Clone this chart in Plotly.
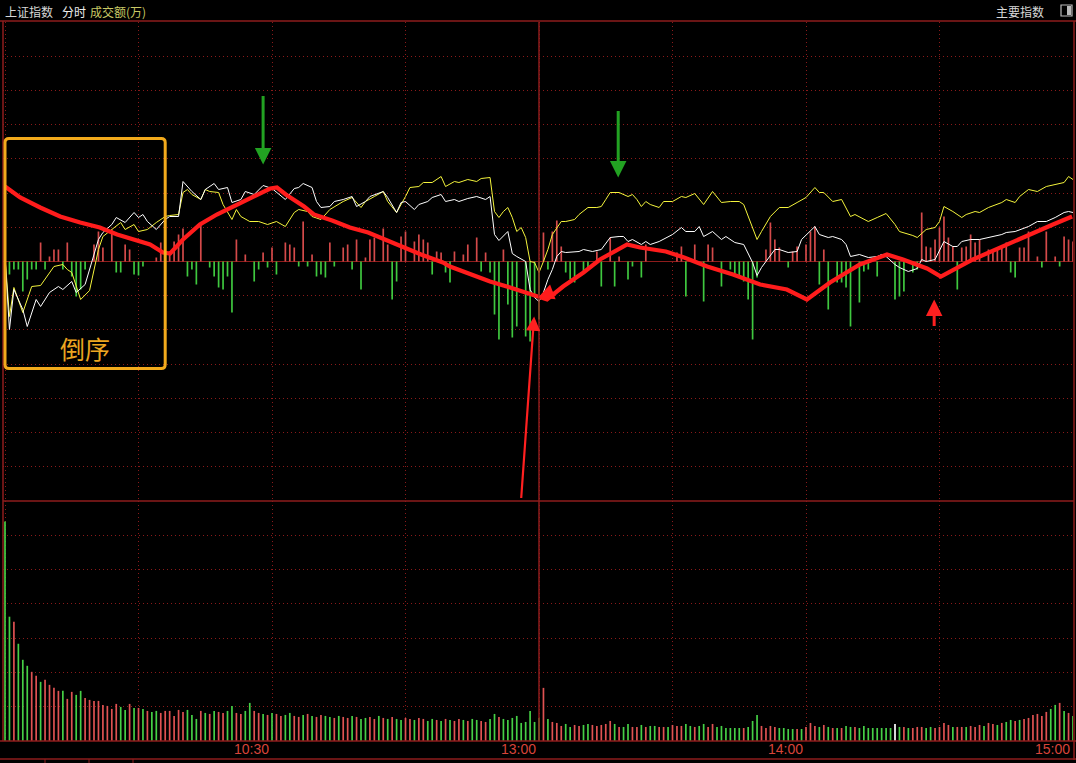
import plotly.graph_objects as go

# ---------------- data (minutes since 9:30, lunch break removed) ----------------
tick_minutes = [60, 120, 180, 240]
tick_labels = ["10:30", "13:00", "14:00", "15:00"]

# 上证指数 (white) : change vs. previous close, in basis points
white_t = [0, 1, 2, 4, 5, 7, 8, 10, 12, 13,
           15, 16, 18, 21, 22, 24, 25, 27, 29, 30,
           31, 32, 34, 36, 37, 39, 40, 42, 44, 45,
           47, 48, 50, 51, 53, 54, 56, 58, 60, 62,
           63, 65, 66, 67, 69, 70, 71, 73, 74, 76,
           78, 79, 81, 82, 85, 86, 88, 89, 90, 92,
           93, 95, 96, 98, 99, 101, 102, 104, 106, 108,
           109, 110, 111, 113, 114, 115, 117, 118, 119, 120,
           121, 122, 123, 124, 125, 126, 129, 130, 132, 134,
           136, 138, 139, 140, 141, 143, 144, 145, 147, 150,
           152, 153, 155, 156, 157, 159, 161, 162, 164, 166,
           168, 169, 170, 171, 173, 174, 176, 178, 179, 182,
           183, 185, 186, 188, 189, 190, 192, 194, 196, 197,
           198, 200, 201, 203, 205, 206, 207, 209, 211, 213,
           214, 215, 217, 219, 222, 224, 225, 227, 230, 232,
           234, 236, 238, 239, 240]
white_v = [5, -68, -28, -48, -65, -38, -45, -31, -25, -28,
           -20, -31, -23, 22, 29, 37, 44, 39, 49, 44,
           47, 40, 32, 42, 45, 45, 80, 70, 62, 72,
           78, 72, 74, 59, 62, 70, 67, 76, 73, 65,
           62, 73, 74, 78, 74, 60, 54, 55, 60, 62,
           65, 55, 60, 65, 70, 64, 49, 59, 60, 52,
           57, 60, 64, 67, 60, 62, 60, 63, 65, 62,
           65, 27, 21, 30, 8, 5, 0, -28, -36, -40,
           -31, -18, -8, 5, 10, 9, 10, 12, 10, 12,
           24, 25, 25, 20, 22, 17, 20, 17, 20, 27,
           34, 30, 30, 35, 25, 30, 22, 25, 19, 17,
           -1, -14, -6, 0, 12, 12, 9, 10, 22, 35,
           27, 24, 25, 22, 17, 5, 7, 4, 5, 7,
           5, -3, -6, -10, -7, 2, 0, 2, 20, 15,
           15, 20, 22, 22, 25, 27, 29, 30, 35, 40,
           40, 44, 49, 50, 49]

# 领先指标 (yellow)
yellow_t = [0, 1, 2, 4, 6, 8, 11, 13, 14, 15,
            17, 18, 19, 21, 22, 24, 26, 27, 29, 30,
            32, 34, 36, 37, 39, 40, 41, 42, 44, 45,
            46, 48, 49, 51, 52, 53, 55, 57, 59, 61,
            63, 65, 66, 68, 69, 71, 73, 76, 78, 80,
            81, 83, 85, 86, 88, 90, 91, 93, 94, 96,
            98, 99, 101, 102, 104, 106, 107, 109, 110, 111,
            112, 113, 114, 115, 116, 117, 118, 119, 120, 121,
            122, 123, 125, 126, 128, 129, 131, 133, 134, 135,
            136, 138, 140, 141, 142, 143, 144, 145, 147, 148,
            150, 152, 153, 155, 157, 159, 161, 163, 165, 166,
            167, 169, 170, 172, 174, 176, 178, 180, 182, 183,
            184, 186, 188, 190, 191, 194, 196, 198, 200, 201,
            204, 205, 207, 209, 210, 211, 213, 215, 216, 218,
            219, 221, 224, 225, 227, 228, 230, 232, 234, 236,
            238, 239, 240]
yellow_v = [5, -55, -26, -51, -25, -24, -5, -3, -8, -11,
            -38, -34, -29, 12, 25, 32, 39, 32, 37, 30,
            32, 39, 45, 46, 47, 69, 72, 67, 62, 72,
            70, 69, 57, 42, 52, 45, 40, 40, 37, 40,
            35, 49, 52, 50, 45, 42, 52, 60, 64, 54,
            60, 65, 70, 60, 49, 65, 74, 75, 79, 79,
            85, 75, 80, 79, 82, 80, 83, 84, 50, 44,
            50, 54, 44, 30, 34, 24, 0, -1, -11, 0,
            12, 27, 40, 40, 42, 47, 54, 54, 55, 62,
            69, 69, 65, 67, 62, 55, 60, 57, 54, 60,
            60, 65, 64, 68, 57, 70, 59, 60, 60, 57,
            45, 22, 30, 45, 54, 54, 59, 64, 74, 69,
            69, 60, 62, 45, 47, 40, 44, 48, 37, 30,
            26, 24, 32, 34, 40, 55, 50, 44, 47, 50,
            49, 54, 59, 62, 59, 65, 72, 70, 75, 77,
            79, 85, 82]

# hand-drawn red trend line
trend_t = [0, 3.4, 7.9, 12.4, 16.9, 21.3, 25.2, 28.8, 32.6, 35.5,
           37.1, 40, 43.8, 47.6, 51.2, 55.1, 58, 59.6, 61.1, 63.1,
           67.2, 69.4, 73.5, 77.5, 81.6, 85.6, 89.7, 93.5, 98.4, 100,
           104.5, 109, 113.5, 118, 120.2, 121.8, 125.4, 130, 133.7, 137.5,
           139.8, 142.7, 148.5, 152.6, 157.8, 163.6, 169.7, 175.7, 180.2, 185.4,
           192.1, 198.2, 201.8, 207.2, 210.3, 217.5, 226.5, 235.5, 239.8]
trend_v = [75, 64, 54, 45, 39, 34, 27, 22, 17, 9,
           8, 22, 37, 47, 55, 64, 70, 73, 74, 67,
           55, 47, 41, 34, 29, 22, 14, 7, -1, -5,
           -13, -20, -26, -33, -36, -38, -25, -11, 2, 12,
           17, 14, 10, 4, -5, -13, -23, -28, -38, -21,
           -3, 7, 2, -7, -15, 2, 20, 37, 45]

# red (buy) and green (sell) bars around the zero line
buy_t = [8, 10, 11, 12, 14, 20, 21, 22, 24, 27,
         28, 34, 35, 37, 38, 39, 40, 44, 52, 54,
         58, 60, 63, 64, 65, 67, 69, 73, 76, 77,
         79, 81, 82, 83, 85, 86, 89, 90, 92, 93,
         94, 95, 97, 98, 101, 103, 104, 106, 108, 112,
         121, 123, 124, 125, 133, 136, 138, 144, 151, 152,
         155, 158, 159, 171, 172, 173, 174, 177, 178, 180,
         181, 182, 184, 206, 207, 208, 209, 210, 211, 212,
         213, 215, 216, 217, 218, 219, 221, 222, 223, 224,
         225, 228, 229, 230, 232, 234, 236, 238, 239, 240]
buy_v = [19, 5, 12, 12, 19, 17, 30, 14, 32, 17,
         12, 4, 19, 10, 20, 27, 33, 38, 22, 7,
         9, 14, 19, 17, 14, 40, 7, 19, 14, 17,
         22, 4, 22, 24, 33, 17, 25, 30, 20, 27,
         22, 19, 10, 9, 10, 7, 17, 24, 9, 12,
         29, 30, 41, 15, 10, 24, 5, 17, 9, 15,
         17, 17, 14, 12, 39, 22, 14, 10, 15, 17,
         30, 35, 12, 49, 15, 14, 22, 34, 45, 24,
         15, 14, 15, 27, 19, 22, 12, 10, 14, 15,
         19, 14, 14, 30, 5, 30, 5, 25, 22, 20]
sell_t = [0, 1, 2, 3, 4, 5, 6, 7, 9, 13,
          15, 16, 17, 18, 25, 26, 29, 30, 31, 36,
          41, 42, 43, 46, 47, 48, 49, 50, 51, 56,
          57, 59, 61, 66, 68, 70, 71, 72, 74, 78,
          80, 87, 88, 96, 99, 100, 107, 109, 110, 111,
          113, 114, 115, 117, 118, 119, 120, 122, 126, 127,
          128, 130, 131, 134, 137, 140, 141, 143, 153, 157,
          161, 163, 164, 165, 166, 167, 168, 169, 176, 183,
          185, 187, 188, 189, 190, 192, 193, 194, 196, 200,
          201, 202, 204, 205, 214, 226, 227, 233, 237]
sell_v = [-15, -13, -8, -8, -30, -18, -8, -8, -8, -8,
          -15, -35, -28, -8, -11, -11, -13, -14, -5, -11,
          -15, -8, -23, -6, -15, -26, -28, -15, -51, -20,
          -8, -6, -13, -5, -5, -15, -13, -16, -5, -8,
          -28, -38, -20, -13, -11, -21, -10, -11, -53, -78,
          -43, -76, -65, -75, -80, -35, -58, -8, -11, -18,
          -21, -11, -6, -25, -25, -18, -5, -16, -35, -40,
          -25, -8, -13, -15, -20, -38, -78, -16, -6, -23,
          -48, -21, -21, -26, -65, -41, -10, -8, -15, -38,
          -35, -30, -11, -8, -28, -11, -16, -6, -5]

# 成交额 per minute (m0 .. m240) and bar direction (R up / G down / W flat)
volume = [219, 124, 119, 97, 81, 75, 69, 65, 59, 61,
          56, 53, 50, 50, 42, 49, 46, 50, 43, 41,
          40, 40, 36, 35, 32, 37, 34, 31, 37, 33,
          33, 32, 30, 29, 30, 28, 30, 30, 25, 31,
          29, 31, 26, 22, 30, 28, 27, 30, 29, 28,
          30, 35, 28, 27, 30, 38, 30, 28, 27, 26,
          28, 27, 25, 26, 28, 25, 24, 26, 27, 25,
          24, 26, 25, 24, 23, 25, 24, 23, 25, 24,
          22, 23, 24, 22, 25, 23, 22, 24, 22, 21,
          23, 22, 21, 23, 22, 20, 22, 21, 20, 22,
          21, 20, 22, 21, 20, 22, 21, 20, 19, 22,
          27, 24, 22, 21, 23, 25, 18, 19, 30, 19,
          23, 53, 22, 19, 18, 15, 17, 14, 16, 15,
          16, 17, 16, 15, 16, 17, 20, 17, 14, 14,
          17, 14, 14, 16, 14, 15, 15, 14, 14, 14,
          16, 15, 15, 17, 15, 14, 15, 17, 14, 17,
          14, 15, 13, 13, 13, 13, 13, 14, 20, 26,
          15, 13, 15, 14, 13, 13, 12, 12, 12, 12,
          14, 18, 15, 14, 16, 14, 13, 13, 13, 15,
          14, 14, 13, 15, 13, 13, 13, 13, 13, 13,
          17, 14, 14, 13, 13, 14, 14, 13, 14, 13,
          14, 18, 16, 14, 14, 14, 14, 15, 14, 16,
          15, 18, 17, 16, 18, 19, 21, 20, 21, 22,
          23, 26, 27, 25, 29, 32, 36, 38, 30, 28,
          25]
vol_dir = ("GGRGGGRRGR" "RRRGRRGGRR" "RRRRRRGGRG" "RGRGGRRRRR" "RGGG"
           "RGRGRRGGRR" "GGRRGRGRRG" "GRRGRGRRGG" "RGRRGRGGRR"
           "GRGRGGRRGR" "RGGRGRGRRG" "RGGRRGGRGG" "G"
           "GGGGGGRGRR" "RGGRRGGRRR" "RRGRGGRRGR" "GGRRGRRRGG"
           "RGGRRGGGGG" "GRGGGRRRRG" "GGGRGRRRGR" "GRGRGGRGGG"
           "GGGGGWGRGR" "RRGGRRRRGR" "RGRRRGRRGR" "GGRGRRRRRR" "GGRGRG")

# ---------------- styling ----------------
BG = "#000000"
GRID = "#8a1a1a"
FRAME = "#8e1c1c"
RED_BAR = "#e05252"
GREEN_BAR = "#46d046"
dir_color = {"R": RED_BAR, "G": GREEN_BAR, "W": "#ffffff"}

W, H = 1076, 763
ML, MR, MT, MB = 3, 3, 22, 22
PW, PH = W - ML - MR, H - MT - MB
SPLIT = 240 / PH  # paper fraction of lower (volume) panel
GSTEP = 34.2      # grid spacing in panel units
XR = [-0.45, 240.0]


def px_x(px):
    return (px - ML) / PW


def px_y(py):
    return (H - MB - py) / PH


fig = go.Figure()

fig.add_trace(go.Bar(x=buy_t, y=buy_v, width=0.38, marker=dict(color="#d44a4a", line_width=0),
                     xaxis="x", yaxis="y", hoverinfo="skip"))
fig.add_trace(go.Bar(x=sell_t, y=sell_v, width=0.38, marker=dict(color="#3fc83f", line_width=0),
                     xaxis="x", yaxis="y", hoverinfo="skip"))
fig.add_trace(go.Scatter(x=yellow_t, y=yellow_v, mode="lines",
                         line=dict(color="#f4f43c", width=1), xaxis="x", yaxis="y", hoverinfo="skip"))
fig.add_trace(go.Scatter(x=white_t, y=white_v, mode="lines",
                         line=dict(color="#ffffff", width=1), xaxis="x", yaxis="y", hoverinfo="skip"))
fig.add_trace(go.Scatter(x=trend_t, y=trend_v, mode="lines",
                         line=dict(color="#ff1c1c", width=4.2), xaxis="x", yaxis="y", hoverinfo="skip"))

vol_x = list(range(len(volume)))
fig.add_trace(go.Bar(x=vol_x, y=volume, width=0.38,
                     marker=dict(color=[dir_color[c] for c in vol_dir], line_width=0),
                     xaxis="x2", yaxis="y2", hoverinfo="skip"))

axis_common = dict(showticklabels=False, ticks="", showline=False, fixedrange=True)
fig.update_layout(
    width=W, height=H,
    margin=dict(l=ML, r=MR, t=MT, b=MB),
    paper_bgcolor=BG, plot_bgcolor=BG,
    showlegend=False, barmode="overlay", hovermode=False,
    xaxis=dict(domain=[0, 1], range=XR, anchor="y", tick0=0, dtick=30,
               showgrid=True, gridcolor=GRID, griddash="1px,3px", gridwidth=1,
               zeroline=False, **axis_common),
    yaxis=dict(domain=[SPLIT, 1], range=[-7 * GSTEP - 0.1, 7 * GSTEP + 0.1], anchor="x",
               tick0=0, dtick=GSTEP, showgrid=True, gridcolor=GRID, griddash="1px,3px",
               zeroline=True, zerolinecolor=FRAME, zerolinewidth=1, **axis_common),
    xaxis2=dict(domain=[0, 1], range=XR, anchor="y2", matches="x", tick0=0, dtick=30,
                showgrid=True, gridcolor=GRID, griddash="1px,3px", zeroline=False, **axis_common),
    yaxis2=dict(domain=[0, SPLIT], range=[0, 7 * GSTEP], anchor="x2", tick0=0, dtick=GSTEP,
                showgrid=True, gridcolor=GRID, griddash="1px,3px", zeroline=False, **axis_common),
)

# frame lines
shapes = [
    dict(type="line", xref="paper", yref="paper", x0=px_x(0), x1=px_x(W), y0=px_y(21), y1=px_y(21),
         line=dict(color=FRAME, width=1.5)),
    dict(type="line", xref="paper", yref="paper", x0=px_x(3), x1=px_x(3), y0=px_y(21), y1=px_y(741),
         line=dict(color=FRAME, width=1.5)),
    dict(type="line", xref="paper", yref="paper", x0=px_x(1074), x1=px_x(1074), y0=px_y(21), y1=px_y(760),
         line=dict(color=FRAME, width=1.5)),
    dict(type="line", xref="paper", yref="paper", x0=px_x(0), x1=px_x(W), y0=0, y1=0,
         line=dict(color=FRAME, width=1.5)),
    dict(type="line", xref="paper", yref="paper", x0=px_x(3), x1=px_x(1074), y0=SPLIT, y1=SPLIT,
         line=dict(color=FRAME, width=1.5)),
    dict(type="line", xref="paper", yref="paper", x0=px_x(0), x1=px_x(W), y0=px_y(759), y1=px_y(759),
         line=dict(color=FRAME, width=1.5)),
    dict(type="line", xref="x", yref="paper", x0=120, x1=120, y0=0, y1=1,
         line=dict(color=FRAME, width=1.5)),
]
for sx in (45, 89, 133):
    shapes.append(dict(type="line", xref="paper", yref="paper", x0=px_x(sx), x1=px_x(sx),
                       y0=px_y(759), y1=px_y(763), line=dict(color=FRAME, width=1)))

# orange "倒序" box (rounded) in data coordinates of the upper panel
bx0, bx1, by0, by1 = 0.0, 36.0, -107.0, 123.0
rx, ry = 0.9, 4.0
box_path = (f"M {bx0+rx},{by1} L {bx1-rx},{by1} Q {bx1},{by1} {bx1},{by1-ry} "
            f"L {bx1},{by0+ry} Q {bx1},{by0} {bx1-rx},{by0} L {bx0+rx},{by0} "
            f"Q {bx0},{by0} {bx0},{by0+ry} L {bx0},{by1-ry} Q {bx0},{by1} {bx0+rx},{by1} Z")
shapes.append(dict(type="path", xref="x", yref="y", path=box_path,
                   line=dict(color="#f2aa1c", width=3)))

# small icon at top right
shapes.append(dict(type="rect", xref="paper", yref="paper", x0=px_x(1061), x1=px_x(1072),
                   y0=px_y(16), y1=px_y(5), line=dict(color="#bbbbbb", width=1.2)))
shapes.append(dict(type="rect", xref="paper", yref="paper", x0=px_x(1067), x1=px_x(1071),
                   y0=px_y(15), y1=px_y(6), line=dict(width=0), fillcolor="#bbbbbb"))
fig.update_layout(shapes=shapes)

CJK = "Noto Sans CJK SC, Noto Sans, sans-serif"
ann = [
    dict(text="上证指数", x=px_x(3), y=px_y(11), xanchor="left", yanchor="middle",
         font=dict(family=CJK, size=12, color="#d8d8d8")),
    dict(text="分时", x=px_x(60), y=px_y(11), xanchor="left", yanchor="middle",
         font=dict(family=CJK, size=12, color="#eeeeee")),
    dict(text="成交额(万)", x=px_x(88), y=px_y(11), xanchor="left", yanchor="middle",
         font=dict(family=CJK, size=12, color="#c8c864")),
    dict(text="主要指数", x=px_x(1046), y=px_y(11), xanchor="right", yanchor="middle",
         font=dict(family=CJK, size=12, color="#d8d8d8")),
]
for a in ann:
    a.update(xref="paper", yref="paper", showarrow=False)

for m, lab in zip(tick_minutes, tick_labels):
    ann.append(dict(text=lab, x=m, xref="x", y=px_y(749), yref="paper", xanchor="right",
                    yanchor="middle", xshift=-1, showarrow=False,
                    font=dict(family="Liberation Sans Narrow, Liberation Sans, Arial", size=14,
                              color="#d8443a")))

ann.append(dict(text="倒序", x=18, y=-86, xref="x", yref="y", showarrow=False,
                font=dict(family=CJK, size=25, color="#eca620")))

arrow_specs = [
    # tip (minute, value), tail offset px, colour, width, size
    (58.0, 97, 0, -70, "#22a222", 3.0, 1.1),
    (137.8, 84, 0, -68, "#22a222", 3.0, 1.1),
    (118.9, -55, -13, 183, "#ff2020", 2.2, 1.3),
    (208.8, -38, 0, 28, "#ff2020", 3.0, 1.1),
    (119.8, -36, 16, -6, "#ff1c1c", 3.5, 0.9),
]
for (ax_m, ay_v, dx, dy, col, wdt, sz) in arrow_specs:
    ann.append(dict(x=ax_m, y=ay_v, xref="x", yref="y", ax=dx, ay=dy, text="",
                    showarrow=True, arrowhead=2, arrowsize=sz, arrowwidth=wdt,
                    arrowcolor=col, standoff=0))
fig.update_layout(annotations=ann)

fig.write_html("out.html", config={"displayModeBar": False, "staticPlot": True},
               post_script="document.body.style.margin='0';document.body.style.overflow='hidden';"
                           "document.body.style.background='#000';")
